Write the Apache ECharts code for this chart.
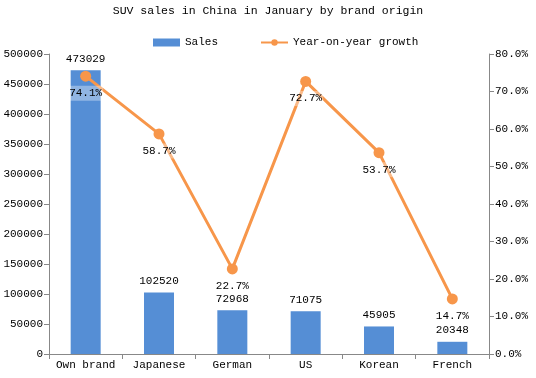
<!DOCTYPE html>
<html>
<head>
<meta charset="utf-8">
<script src="https://cdn.jsdelivr.net/npm/echarts@6/dist/echarts.min.js"></script>
<style>
  html, body { margin: 0; padding: 0; background: #fff; }
  #chart { width: 536px; height: 378px; }
</style>
</head>
<body>
<div id="chart"></div>
<script>
  const categories = ['Own brand', 'Japanese', 'German', 'US', 'Korean', 'French'];
  const sales = [473029, 102520, 72968, 71075, 45905, 20348];
  const growth = [74.1, 58.7, 22.7, 72.7, 53.7, 14.7];

  const font = 'Liberation Mono';
  const myChart = echarts.init(document.getElementById('chart'));

  const option = {
    animation: false,
    textStyle: { fontFamily: font },
    title: {
      text: 'SUV sales in China in January by brand origin',
      left: 'center',
      top: 0,
      textStyle: { fontFamily: font, fontSize: 11.5, fontWeight: 'normal', color: '#000' }
    },
    legend: {
      top: 32,
      left: 148,
      itemWidth: 27,
      itemHeight: 8,
      itemGap: 42,
      textStyle: { fontFamily: font, fontSize: 11, color: '#000' },
      data: [
        { name: 'Sales', icon: 'rect' },
        { name: 'Year-on-year growth' }
      ]
    },
    grid: {
      left: 49,
      right: 47,
      top: 54,
      bottom: 24
    },
    xAxis: {
      type: 'category',
      data: categories,
      axisLine: { lineStyle: { color: '#888' } },
      axisTick: { show: true, lineStyle: { color: '#888' } },
      axisLabel: { color: '#000', fontSize: 11, fontFamily: font, margin: 6, interval: 0 }
    },
    yAxis: [{
      type: 'value',
      min: 0,
      max: 500000,
      interval: 50000,
      splitLine: { show: false },
      axisLine: { show: true, lineStyle: { color: '#888' } },
      axisTick: { show: true, lineStyle: { color: '#888' } },
      axisLabel: {
        color: '#000', fontSize: 11, fontFamily: font, margin: 6,
        formatter: v => String(v)
      }
    }, {
      type: 'value',
      min: 0,
      max: 80,
      interval: 10,
      splitLine: { show: false },
      axisLine: { show: true, lineStyle: { color: '#888' } },
      axisTick: { show: true, lineStyle: { color: '#888' } },
      axisLabel: {
        color: '#000', fontSize: 11, fontFamily: font, margin: 6,
        formatter: v => v.toFixed(1) + '%'
      }
    }],
    series: [{
      name: 'Sales',
      type: 'bar',
      barWidth: 30,
      data: sales,
      itemStyle: { color: '#558ED5' },
      label: {
        show: true,
        position: 'top',
        distance: 6,
        color: '#000',
        fontSize: 11,
        fontFamily: font
      }
    }, {
      name: 'Year-on-year growth',
      type: 'line',
      yAxisIndex: 1,
      data: growth,
      symbol: 'circle',
      symbolSize: 11,
      itemStyle: { color: '#F7964A' },
      lineStyle: { color: '#F7964A', width: 3 },
      label: {
        show: true,
        position: 'bottom',
        distance: 4,
        color: '#000',
        fontSize: 11,
        fontFamily: font,
        backgroundColor: 'rgba(255,255,255,0.35)',
        padding: [2, 1],
        formatter: p => p.value.toFixed(1) + '%'
      }
    }]
  };
  myChart.setOption(option);
</script>
</body>
</html>
